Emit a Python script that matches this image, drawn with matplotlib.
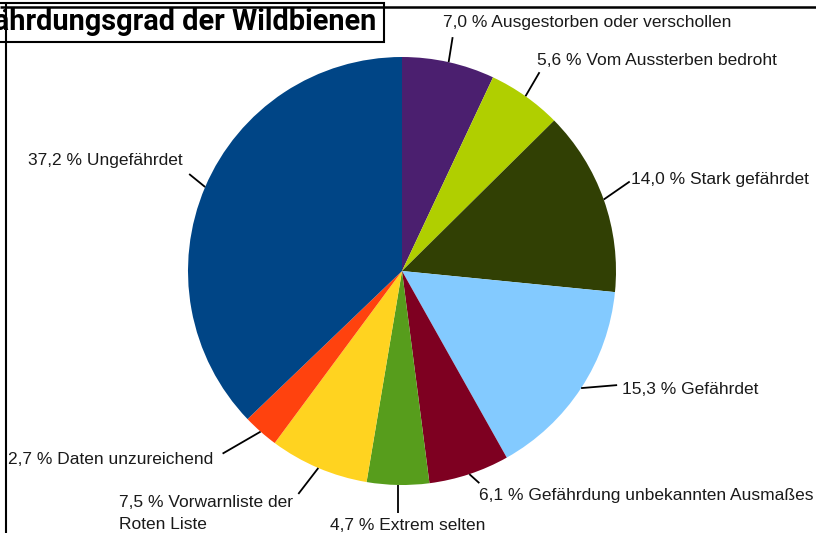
import matplotlib
matplotlib.use("Agg")
import matplotlib.pyplot as plt
import numpy as np
from matplotlib.patches import Rectangle

# ---- data ----
title = "Gefährdungsgrad der Wildbienen"
categories = ["Ausgestorben oder verschollen", "Vom Aussterben bedroht", "Stark gefährdet",
              "Gefährdet", "Gefährdung unbekannten Ausmaßes", "Extrem selten",
              "Vorwarnliste der\nRoten Liste", "Daten unzureichend", "Ungefährdet"]
values = [7.0, 5.6, 14.0, 15.3, 6.1, 4.7, 7.5, 2.7, 37.2]
colors = ["#4b1f6f", "#b0cf00", "#314004", "#83caff", "#7e0021",
          "#579d1c", "#ffd320", "#ff420e", "#004586"]

# ---- layout (pixels, y downwards) ----
W, H = 816, 533
cx, cy_pix, R = 402, 271, 214
# (leader dx, leader dy, ha, va, text dx, text dy)
label_style = [
    (4, -25, "left", "baseline", -10, -10),
    (14, -24, "left", "baseline", -2, -7),
    (26, -18, "left", "baseline", 1, 2),
    (36, -3, "left", "baseline", 5, 9),
    (10, 9, "left", "baseline", 0, 17),
    (0, 28, "center", "baseline", 10, 17),
    (-20, 26, "right", "top", -5, 1),
    (-38, 22, "right", "baseline", -9, 10),
    (-16, -13, "right", "baseline", -7, -9),
]

fig = plt.figure(figsize=(W / 100, H / 100), dpi=100)
ax = fig.add_axes([0, 0, 1, 1])
cy = H - cy_pix
wedges, _ = ax.pie(values, colors=colors, startangle=90, counterclock=False,
                   center=(cx, cy), radius=R, normalize=True,
                   wedgeprops=dict(linewidth=0))
ax.set_aspect("auto")
ax.set_xlim(0, W)
ax.set_ylim(0, H)
ax.axis("off")

for w, v, name, st in zip(wedges, values, categories, label_style):
    ldx, ldy, ha, va, tdx, tdy = st
    mid = np.deg2rad((w.theta1 + w.theta2) / 2)
    x0, y0 = cx + R * np.cos(mid), cy + R * np.sin(mid)
    x1, y1 = x0 + ldx, y0 - ldy
    ax.plot([x0, x1], [y0, y1], color="black", lw=1.3, solid_capstyle="butt")
    txt = f"{v:.1f}".replace(".", ",") + " % " + name
    ax.text(x1 + tdx, y1 - tdy, txt, ha=ha, va=va, multialignment="left",
            fontsize=12.5, family="Liberation Sans", color="#1a1a1a",
            linespacing=1.55)

# frame lines
ax.plot([0, W], [H - 7, H - 7], color="black", lw=1.8, solid_capstyle="butt")
ax.plot([6, 6], [H - 3, 0], color="black", lw=1.5, solid_capstyle="butt")

# title box (title is cut off at the left edge, as in the reference)
ax.add_patch(Rectangle((-10, H - 42), 394, 39, facecolor="none",
                       edgecolor="black", lw=1.5))
ax.text(376, H - 22, title, ha="right", va="center", fontsize=20.8,
        family="Roboto", fontweight="bold", color="black")

fig.savefig("out.png", dpi=100)
